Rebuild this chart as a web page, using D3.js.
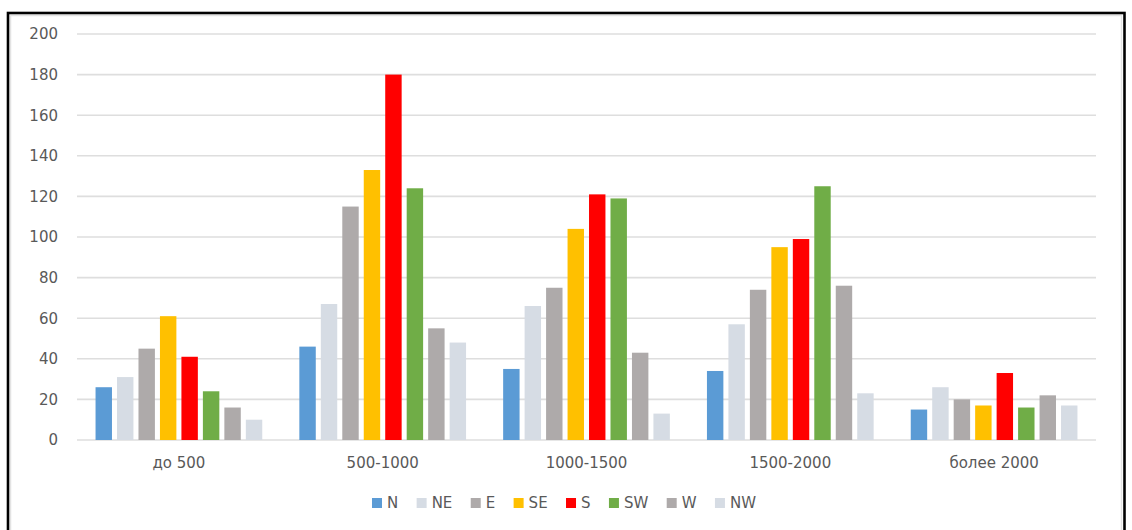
<!DOCTYPE html>
<html>
<head>
<meta charset="utf-8">
<script src="https://cdn.jsdelivr.net/npm/d3@7"></script>
<style>
  html, body { margin: 0; padding: 0; background: #fff; }
  svg { display: block; }
  text { font-family: "DejaVu Sans", sans-serif; fill: #595959; }
</style>
</head>
<body>
<svg id="chart" width="1132" height="530"></svg>
<script>
// Height ranges (m) and slope exposures
const categories = ["до 500", "500-1000", "1000-1500", "1500-2000", "более 2000"];
const seriesNames = ["N", "NE", "E", "SE", "S", "SW", "W", "NW"];
const seriesColors = ["#5B9BD5", "#D6DCE4", "#AEAAAA", "#FFC000", "#FF0000", "#70AD47", "#AEAAAA", "#D6DCE4"];

// One array per exposure, values follow the order of categories
const N  = [26, 46, 35, 34, 15];
const NE = [31, 67, 66, 57, 26];
const E  = [45, 115, 75, 74, 20];
const SE = [61, 133, 104, 95, 17];
const S  = [41, 180, 121, 99, 33];
const SW = [24, 124, 119, 125, 16];
const W  = [16, 55, 43, 76, 22];
const NW = [10, 48, 13, 23, 17];
const seriesValues = [N, NE, E, SE, S, SW, W, NW];

const yTicks = [0, 20, 40, 60, 80, 100, 120, 140, 160, 180, 200];

const FONT = "'DejaVu Sans', sans-serif";
const FONT_SIZE = 15;

const svg = d3.select("#chart");

// outer frame and chart-area border
svg.append("rect")
  .attr("x", 10.5).attr("y", 15.5).attr("width", 1111).attr("height", 530)
  .attr("fill", "none").attr("stroke", "#E3E3E3").attr("stroke-width", 1.5);
svg.append("rect")
  .attr("x", 8).attr("y", 13).attr("width", 1116.5).attr("height", 540)
  .attr("fill", "none").attr("stroke", "#000").attr("stroke-width", 2.6);

const plot = { left: 77, right: 1096, top: 34, bottom: 440 };

const y = d3.scaleLinear().domain([0, 200]).range([plot.bottom, plot.top]);
const x0 = d3.scaleBand().domain(categories).range([plot.left, plot.right]).padding(0);
const groupWidth = x0.bandwidth() * 0.818;
const x1 = d3.scaleBand().domain(seriesNames).range([0, groupWidth]).paddingInner(0.235).paddingOuter(0);

// gridlines
svg.append("g")
  .selectAll("line")
  .data(yTicks)
  .join("line")
  .attr("x1", plot.left).attr("x2", plot.right)
  .attr("y1", d => y(d)).attr("y2", d => y(d))
  .attr("stroke", "#DEDEDE").attr("stroke-width", 1.6);

// y axis labels
const yAxis = d3.axisLeft(y).tickValues(yTicks).tickSize(0).tickPadding(0);
const yg = svg.append("g").attr("transform", `translate(${plot.left - 19},0)`).call(yAxis);
yg.select(".domain").remove();
yg.selectAll("text").attr("font-size", FONT_SIZE).attr("fill", "#595959")
  .style("font-family", FONT);

// bars
const groups = svg.append("g")
  .selectAll("g")
  .data(categories)
  .join("g")
  .attr("transform", c => `translate(${x0(c) + (x0.bandwidth() - groupWidth) / 2},0)`);

groups.selectAll("rect")
  .data((c, ci) => seriesNames.map((s, si) => ({ s, si, v: seriesValues[si][ci] })))
  .join("rect")
  .attr("x", d => x1(d.s))
  .attr("width", x1.bandwidth())
  .attr("y", d => y(d.v))
  .attr("height", d => y(0) - y(d.v))
  .attr("fill", d => seriesColors[d.si]);

// category axis
const xAxis = d3.axisBottom(x0).tickSize(0).tickPadding(0);
const xg = svg.append("g").attr("transform", `translate(0,${plot.bottom + 28})`).call(xAxis);
xg.select(".domain").remove();
xg.selectAll("text").attr("font-size", FONT_SIZE).attr("fill", "#595959").attr("dy", 0)
  .style("font-family", FONT);

// legend
const legend = svg.append("g");
const items = legend.selectAll("g").data(seriesNames).join("g");
items.append("rect").attr("width", 10).attr("height", 10).attr("y", -5)
  .attr("fill", (d, i) => seriesColors[i]);
items.append("text").attr("x", 15).attr("y", 0).attr("dy", "0.36em")
  .attr("font-size", FONT_SIZE).style("font-family", FONT).text(d => d);
const GAP = 18.4;
let lx = 0;
items.each(function () {
  const g = d3.select(this);
  g.attr("transform", `translate(${lx},0)`);
  lx += 15 + g.select("text").node().getComputedTextLength() + GAP;
});
const legendWidth = lx - GAP;
legend.attr("transform", `translate(${564 - legendWidth / 2},503)`);
</script>
</body>
</html>
